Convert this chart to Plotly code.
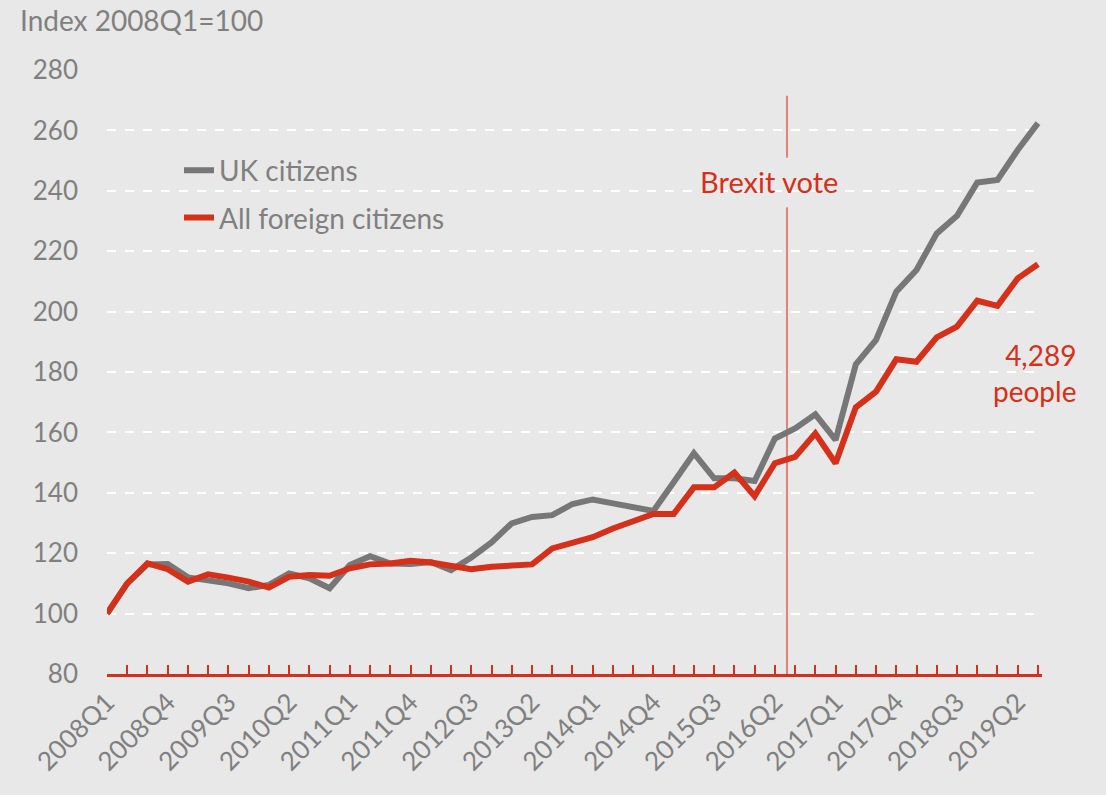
import plotly.graph_objects as go

# Quarterly index, 2008Q1 = 100
quarters = [f"{y}Q{q}" for y in range(2008, 2020) for q in range(1, 5)][:47]

uk_citizens = [100, 110, 116.3, 116.4, 112, 111, 110, 108.4, 109.5, 113.3, 111.7, 108.4,
               116.1, 119, 116.6, 116.4, 117.1, 114.4, 118.6, 123.6, 129.9, 132, 132.6, 136.3,
               137.8, 136.5, 135.2, 134, 143.5, 153.1, 144.8, 144.8, 143.9, 158, 161.3, 166,
               157.5, 182.5, 190.6, 206.6, 213.8, 225.9, 231.7, 242.7, 243.6, 253.5, 262.4]

foreign_citizens = [100, 110, 116.6, 114.7, 110.6, 113, 111.9, 110.6, 108.6, 112.2, 112.8, 112.5,
                    115, 116.3, 116.6, 117.5, 116.9, 115.9, 114.7, 115.5, 115.8, 116.3, 121.6, 123.5,
                    125.3, 128.2, 130.4, 133, 133, 141.8, 141.8, 146.7, 138.9, 149.8, 151.9, 159.7,
                    149.8, 168.3, 173.5, 184.2, 183.4, 191.5, 195, 203.6, 201.9, 211, 215.7]

tick_idx = list(range(0, 47, 3))
tick_labels = [quarters[i] for i in tick_idx]

brexit_pos = 33.6  # between 2016Q2 and 2016Q3
brexit_label = "Brexit vote"
end_label = "4,289<br>people"

GREY = "#777777"
RED = "#D5301A"
TEXT = "#808080"
BG = "#E8E8E8"
FONT = "Lato"

x = list(range(len(quarters)))

fig = go.Figure()
fig.add_trace(go.Scatter(x=x, y=uk_citizens, mode="lines", name="UK citizens",
                         legendgroup="uk", line=dict(color=GREY, width=6)))
fig.add_trace(go.Scatter(x=x, y=foreign_citizens, mode="lines", name="All foreign citizens",
                         legendgroup="foreign", line=dict(color=RED, width=6)))

# Brexit vote marker line, split around its label
fig.add_shape(type="line", x0=brexit_pos, x1=brexit_pos, y0=80, y1=251,
              line=dict(color="#E0604F", width=1.5), layer="below")
fig.add_shape(type="line", x0=brexit_pos, x1=brexit_pos, y0=234.5, y1=271.5,
              line=dict(color="#E0604F", width=1.5), layer="below")
fig.add_shape(type="line", x0=brexit_pos, x1=brexit_pos, y0=234.5, y1=251,
              line=dict(color=BG, width=4), layer="below")

fig.add_annotation(x=brexit_pos - 0.9, y=243, text=brexit_label, showarrow=False,
                   font=dict(family=FONT, size=29, color=RED))
fig.add_annotation(x=1.0, y=179.7, xref="paper", text=end_label, showarrow=False,
                   xanchor="right", align="right",
                   font=dict(family=FONT, size=28, color=RED), xshift=36)
fig.add_annotation(x=0, y=1, xref="paper", yref="paper", text="Index 2008Q1=100",
                   showarrow=False, xanchor="left", yanchor="middle",
                   xshift=-89, yshift=50,
                   font=dict(family=FONT, size=28, color=TEXT))

fig.update_layout(
    width=1106, height=795,
    paper_bgcolor=BG, plot_bgcolor=BG,
    margin=dict(l=107, r=64, t=70, b=121),
    font=dict(family=FONT, size=26, color=TEXT),
    showlegend=True,
    legend=dict(x=0.077, y=0.875, xanchor="left", yanchor="top", bgcolor="rgba(0,0,0,0)",
                traceorder="grouped", tracegroupgap=8,
                font=dict(family=FONT, size=28, color=TEXT)),
    xaxis=dict(range=[0, 46.2], tickmode="array", tickvals=tick_idx, ticktext=tick_labels,
               tickangle=-45, showgrid=False, zeroline=False,
               showline=True, linecolor=RED, linewidth=2.5,
               ticks="inside", ticklen=9, tickwidth=2, tickcolor=RED,
               minor=dict(dtick=1, tick0=0, ticks="inside", ticklen=9, tickwidth=2,
                          tickcolor=RED, showgrid=False),
               tickfont=dict(family=FONT, size=26, color=TEXT)),
    yaxis=dict(range=[80, 280], dtick=20, showgrid=True, gridcolor="white",
               griddash="dash", gridwidth=1.5, zeroline=False, showline=False,
               ticklabelstandoff=28,
               tickfont=dict(family=FONT, size=26, color=TEXT)),
)

fig.write_html("out.html", config={"displayModeBar": False},
               post_script="document.body.style.margin='0';document.body.style.overflow='hidden';")
